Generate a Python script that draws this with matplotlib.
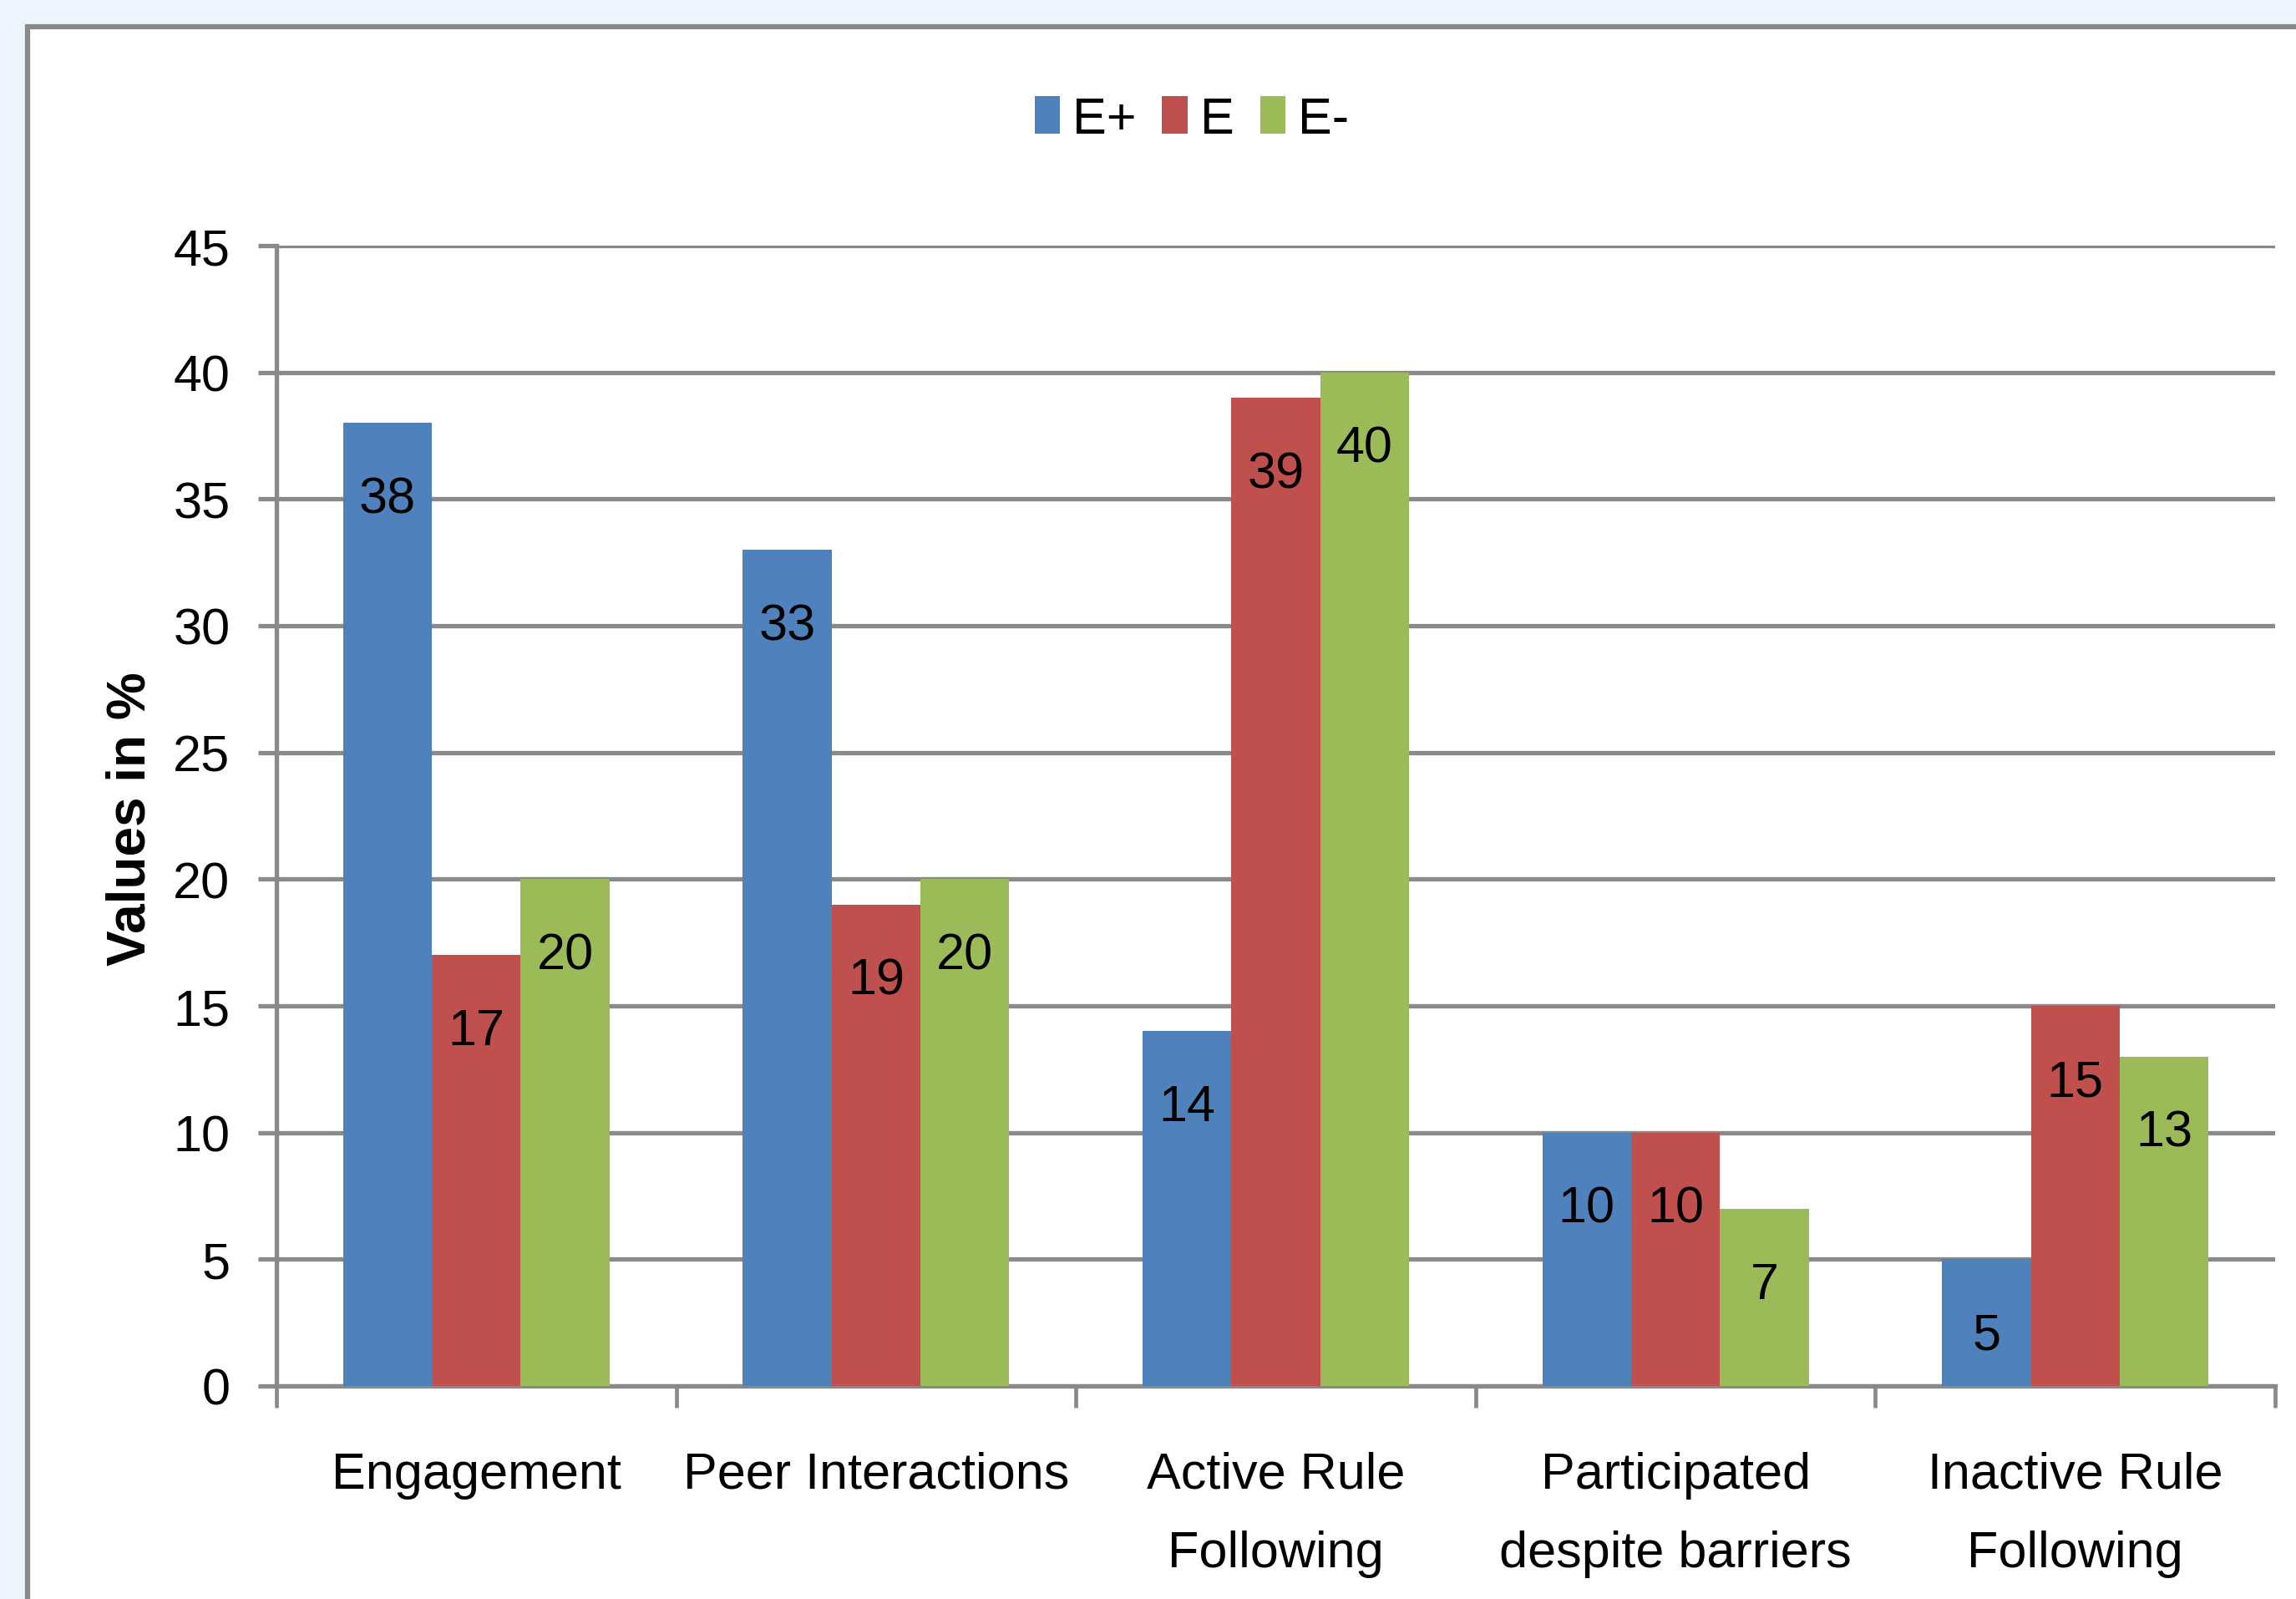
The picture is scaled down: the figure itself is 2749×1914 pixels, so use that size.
import numpy as np
import matplotlib.pyplot as plt
from matplotlib import font_manager
from matplotlib.patches import Rectangle

# pick a narrow sans if it is there, the chart text is condensed
names = {f.name for f in font_manager.fontManager.ttflist}
if 'Liberation Sans Narrow' in names:
    base_font = 'Liberation Sans Narrow'
else:
    base_font = 'Liberation Sans'
plt.rcParams['font.family'] = [base_font, 'DejaVu Sans']

categories = ['Engagement', 'Peer Interactions', 'Active Rule\nFollowing',
              'Participated\ndespite barriers', 'Inactive Rule\nFollowing']
series_names = ['E+', 'E', 'E-']
e_plus = [38, 33, 14, 10, 5]
e_mid = [17, 19, 39, 10, 15]
e_minus = [20, 20, 40, 7, 13]
colors = ['#4F81BD', '#C0504D', '#9BBB59']
y_ticks = list(range(0, 50, 5))

W, H = 2749, 1915
fig = plt.figure(figsize=(W / 100, H / 100), dpi=100)
fig.patch.set_facecolor('#EEF4FD')

# white chart area with grey border, cut off at right and bottom
fig.add_artist(Rectangle((33 / W, -0.2), 1.5, 1.2 - 33 / H,
                         transform=fig.transFigure, facecolor='white',
                         edgecolor='#898989', linewidth=4.5, zorder=0))

ax = fig.add_axes([331 / W, 1 - 1660 / H, (2724 - 331) / W, (1660 - 295) / H])
ax.set_facecolor('white')

x = np.arange(len(categories))
w = 1 / 4.5
grey = '#898989'
fs = 44

for i, (vals, name) in enumerate(zip([e_plus, e_mid, e_minus], series_names)):
    bars = ax.bar(x + (i - 1) * w, vals, width=w, color=colors[i], label=name, zorder=3)
    for b, v in zip(bars, vals):
        ax.annotate(str(v), (b.get_x() + b.get_width() / 2, v), xytext=(0, -66),
                    textcoords='offset points', ha='center', va='center',
                    fontsize=fs, color='black', zorder=4)

ax.set_xlim(-0.5, 4.5)
ax.set_ylim(0, 45)
ax.set_yticks(y_ticks)
ax.yaxis.grid(True, color=grey, linewidth=3.8, zorder=1)
ax.set_axisbelow(True)

ax.set_xticks(np.arange(-0.5, 5, 1))
ax.set_xticklabels([])
ax.set_xticks(x, minor=True)
ax.set_xticklabels(categories, minor=True, fontsize=fs)
for t in ax.get_xticklabels(minor=True):
    t.set_linespacing(1.85)
ax.tick_params(axis='x', which='major', length=19, width=3.4, color=grey)
ax.tick_params(axis='x', which='minor', length=0, pad=56)
ax.tick_params(axis='y', length=16, width=3.8, color=grey, pad=24, labelsize=fs)

for s in ['top', 'right']:
    ax.spines[s].set_visible(False)
for s in ['left', 'bottom']:
    ax.spines[s].set_color(grey)
    ax.spines[s].set_linewidth(3.8)

fig.text(157 / W, 1 - 980 / H, 'Values in %', rotation=90, ha='center', va='center',
         fontsize=46, fontweight='bold')

fig.legend(loc='center', bbox_to_anchor=(1427 / W, 1 - 144 / H), ncol=3, frameon=False,
           fontsize=fs, handlelength=0.5, handleheight=0.75, handletextpad=0.25,
           columnspacing=0.5)

fig.savefig('out.png', dpi=100, facecolor=fig.get_facecolor())
